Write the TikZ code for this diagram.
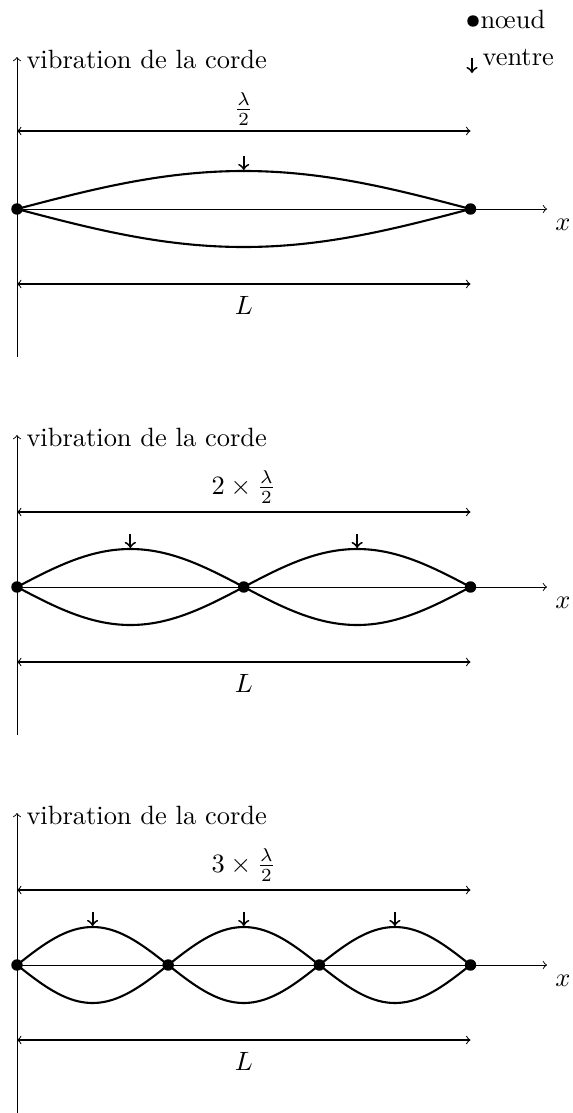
\documentclass[tikz,border=0pt]{standalone}
\usetikzlibrary{calc}
\begin{document}
\begin{tikzpicture}[x=0.4274pt,y=-0.4274pt,
  lbl/.style={scale=1.13},
  axisline/.style={->, line width=0.4pt},
  dimline/.style={<->, line width=0.45pt},
  wave/.style={line width=0.9pt},
  antinode/.style={->, line width=0.8pt},
  knot/.style={circle, fill=black, inner sep=0pt, minimum size=4.9pt}]
\useasboundingbox (0,0) rectangle (572,1113);

% legend
\node[knot] (legdot) at (473,21) {};
\node[lbl, anchor=base west, inner sep=0pt] (legnoeud) at (480,28) {n\oe ud};
\coordinate (legA) at (472,58);
\coordinate (legB) at (472,73);
\draw[antinode] (legA) -- (legB);
\node[lbl, anchor=base west, inner sep=0pt] (legventre) at (482,65) {ventre};

\foreach \n/\yo/\da/\lab in {1/209/78/{$\frac{\lambda}{2}$}, 2/587/75/{$2\times\frac{\lambda}{2}$}, 3/965/75/{$3\times\frac{\lambda}{2}$}}{
  \coordinate (O\n) at (17,\yo);
  \coordinate (Yt\n) at (17,\yo-152);
  \coordinate (Yb\n) at (17,\yo+148);
  \coordinate (Xe\n) at (547,\yo);
  \draw[axisline] (Yb\n) -- (Yt\n);
  \node[lbl, anchor=base west, inner sep=0pt] (ylab\n) at (26,\yo-141) {vibration de la corde};
  \draw[axisline] (O\n) -- (Xe\n);
  \node[lbl] (xlab\n) at (563,\yo+16) {$x$};
  % dimension lines
  \coordinate (Da\n) at (17,\yo-\da);
  \coordinate (Db\n) at (470.5,\yo-\da);
  \draw[dimline] (Da\n) -- (Db\n);
  \node[lbl] (lam\n) at (243.75,\yo-100) {\lab};
  \coordinate (La\n) at (17,\yo+75);
  \coordinate (Lb\n) at (470.5,\yo+75);
  \draw[dimline] (La\n) -- (Lb\n);
  \node[lbl] (L\n) at (243.75,\yo+96) {$L$};
  % waves
  \draw[wave, domain=0:453.5, samples=120, variable=\t] plot ({17+\t}, {\yo-38*sin(\n*(180/453.5)*\t)});
  \draw[wave, domain=0:453.5, samples=120, variable=\t] plot ({17+\t}, {\yo+38*sin(\n*(180/453.5)*\t)});
  % nodes
  \foreach \k in {0,...,\n}{
    \node[knot] (N\n-\k) at ({17+\k*453.5/\n},\yo) {};
  }
  % antinodes
  \foreach \k in {1,...,\n}{
    \coordinate (Aa\n-\k) at ({17+(2*\k-1)*453.5/(2*\n)},\yo-53);
    \coordinate (Ab\n-\k) at ({17+(2*\k-1)*453.5/(2*\n)},\yo-39);
    \draw[antinode] (Aa\n-\k) -- (Ab\n-\k);
  }
}
\end{tikzpicture}
\end{document}
